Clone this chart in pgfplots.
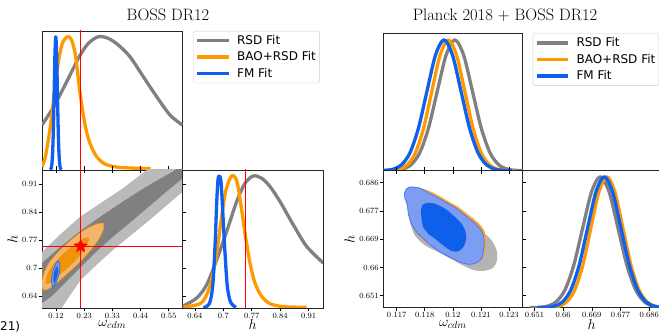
\documentclass[border=0pt]{standalone}
\usepackage{pgfplots}
\pgfplotsset{compat=1.18}
\usepackage{fontspec}
\newfontfamily\dejavu{DejaVu Sans}
\definecolor{cgray}{RGB}{128,128,128}
\definecolor{corange}{RGB}{255,153,0}
\definecolor{cblue}{RGB}{16,96,240}
\definecolor{lgray}{RGB}{186,186,186}
\definecolor{dgray}{RGB}{128,128,128}
\definecolor{lorange}{RGB}{244,180,106}
\definecolor{dorange}{RGB}{240,146,10}
\definecolor{lblue}{RGB}{110,152,238}
\definecolor{dblue}{RGB}{30,96,228}
\definecolor{rgray}{RGB}{180,180,180}
\definecolor{rorange}{RGB}{245,165,50}
\definecolor{rblue}{RGB}{124,157,242}
\definecolor{rblueedge}{RGB}{50,112,240}
\definecolor{rdblue}{RGB}{14,96,234}
\pgfdeclareplotmark{fstar}{%
  \pgfpathmoveto{\pgfpointpolar{90}{\pgfplotmarksize}}%
  \pgfpathlineto{\pgfpointpolar{126}{0.42\pgfplotmarksize}}%
  \pgfpathlineto{\pgfpointpolar{162}{\pgfplotmarksize}}%
  \pgfpathlineto{\pgfpointpolar{198}{0.42\pgfplotmarksize}}%
  \pgfpathlineto{\pgfpointpolar{234}{\pgfplotmarksize}}%
  \pgfpathlineto{\pgfpointpolar{270}{0.42\pgfplotmarksize}}%
  \pgfpathlineto{\pgfpointpolar{306}{\pgfplotmarksize}}%
  \pgfpathlineto{\pgfpointpolar{342}{0.42\pgfplotmarksize}}%
  \pgfpathlineto{\pgfpointpolar{18}{\pgfplotmarksize}}%
  \pgfpathlineto{\pgfpointpolar{54}{0.42\pgfplotmarksize}}%
  \pgfpathclose
  \pgfusepathqfillstroke}
\pgfplotsset{
  tri/.style={scale only axis, anchor=south west,
    axis line style={black!85, line width=0.7pt},
    tick style={black, line width=0.6pt}, major tick length=3.5pt,
    tick align=outside,
    tick label style={font=\fontsize{8}{9}\selectfont, inner sep=1pt},
    label style={font=\fontsize{14}{16}\selectfont},
    xlabel style={inner sep=0.5pt}},
  curve/.style={line width=3.3pt, line join=round, smooth},
  leg/.style={legend style={anchor=north west, draw=black!20, rounded corners=2pt,
    fill=white, font=\dejavu\fontsize{12}{14}\selectfont,
    inner xsep=2pt, inner ysep=2.5pt, row sep=3pt, column sep=5pt,
    cells={anchor=west}, nodes={inner sep=1.5pt}},
    legend image code/.code={\draw[##1, line width=3.5pt, line cap=butt] (0pt,0pt) -- (31.6pt,0pt);}},
  redl/.style={red, line width=0.9pt, forget plot},
}
\begin{document}
\begin{tikzpicture}
\path[use as bounding box] (0pt,0pt) rectangle (659pt,334pt);
\node[font=\fontsize{16.5}{18}\selectfont, anchor=base] at (168pt,313.5pt) {BOSS DR12};
\node[font=\fontsize{16.5}{18}\selectfont, anchor=base] at (505pt,313.5pt) {Planck 2018 + BOSS DR12};
\node[anchor=south west, inner sep=0pt, font=\dejavu\fontsize{12}{12}\selectfont] at (0pt,1.5pt) {21)};

% ---------- LEFT: top-left (omega_cdm 1D)
\begin{axis}[tri, leg, at={(42pt,164pt)}, width=140.5pt, height=139pt,
  xmin=0.0644, xmax=0.6025, ymin=0, ymax=1.043,
  xtick={0.118,0.226,0.334,0.442,0.55}, xticklabels={}, xtick pos=bottom, ytick=\empty,
  legend style={at={(1.077,1.0)}},
  legend entries={RSD Fit, BAO+RSD Fit, FM Fit}]
\addplot[curve, cgray] coordinates {(0.0644,0.3375) (0.1078,0.47) (0.1461,0.6125) (0.1844,0.7625) (0.2099,0.86) (0.2418,0.95) (0.2801,1.0) (0.3184,0.9875) (0.3567,0.9375) (0.4014,0.85) (0.4525,0.70) (0.5036,0.55) (0.5546,0.4125) (0.6019,0.3375)};
\addplot[curve, corange] coordinates {(0.0644,0.025) (0.0759,0.0875) (0.0886,0.225) (0.1014,0.40) (0.1142,0.625) (0.1269,0.8125) (0.1423,0.95) (0.1614,1.0) (0.1780,0.975) (0.1933,0.85) (0.2099,0.58) (0.2291,0.34) (0.2482,0.2) (0.2738,0.10) (0.3057,0.045) (0.3503,0.022) (0.4014,0.015) (0.4525,0.012) (0.4806,0.01)};
\addplot[curve, cblue] coordinates {(0.0962,0.0022) (0.0992,0.0111) (0.1022,0.0439) (0.1052,0.1353) (0.1082,0.3247) (0.1112,0.6065) (0.1142,0.8825) (0.1172,1) (0.1202,0.8825) (0.1232,0.6065) (0.1262,0.3247) (0.1292,0.1353) (0.1322,0.0439) (0.1352,0.0111) (0.1382,0.0022)};
\addplot[redl] coordinates {(0.2126,0) (0.2126,1.1)};
\end{axis}

% ---------- LEFT: bottom-left (2D)
\begin{axis}[tri, at={(42pt,26pt)}, width=140.5pt, height=138pt,
  xmin=0.0644, xmax=0.6025, ymin=0.6075, ymax=0.9413,
  xtick={0.118,0.226,0.334,0.442,0.55}, xticklabels={0.12,0.23,0.33,0.44,0.55},
  ytick={0.637,0.7045,0.772,0.8395,0.907}, yticklabels={0.64,0.7,0.77,0.84,0.91},
  xtick pos=both, ytick pos=both, xticklabel pos=bottom, yticklabel pos=left,
  xlabel={$\omega_{cdm}$}, ylabel={$h$}]
\addplot[fill=lgray, draw=none] coordinates {(0.06,0.7395) (0.0644,0.7430) (0.1333,0.7849) (0.2125,0.8293) (0.2993,0.8655) (0.3759,0.8978) (0.4653,0.9413) (0.50,0.958) (0.65,0.96) (0.65,0.914) (0.6031,0.8889) (0.5419,0.8559) (0.4780,0.8212) (0.4078,0.7849) (0.3376,0.7486) (0.2738,0.7123) (0.2125,0.6752) (0.1780,0.6438) (0.1397,0.6075) (0.1206,0.59) (0.06,0.59)} -- cycle;
\addplot[fill=dgray, draw=none] coordinates {(0.06,0.7135) (0.0644,0.7164) (0.1333,0.7543) (0.2125,0.7946) (0.2993,0.8333) (0.3759,0.8655) (0.4397,0.8913) (0.5036,0.9155) (0.5674,0.9381) (0.60,0.955) (0.65,0.97) (0.65,0.9454) (0.6031,0.9212) (0.5419,0.8897) (0.4780,0.8551) (0.4078,0.8172) (0.3376,0.7809) (0.2738,0.7446) (0.2125,0.7059) (0.1780,0.6841) (0.1397,0.6599) (0.1014,0.6357) (0.0644,0.6196) (0.06,0.617)} -- cycle;
\addplot[smooth, fill=lorange, draw=dorange, line width=0.5pt] coordinates {(0.2993,0.8131) (0.2738,0.8107) (0.2355,0.7994) (0.1972,0.7833) (0.1589,0.7631) (0.1206,0.7390) (0.0886,0.7140) (0.0695,0.6866) (0.0631,0.6648) (0.0695,0.6511) (0.0886,0.6535) (0.1206,0.6680) (0.1589,0.6890) (0.2035,0.7148) (0.2482,0.7454) (0.2840,0.7760) (0.3019,0.8002)} -- cycle;
\addplot[smooth, fill=dorange, draw=none] coordinates {(0.2431,0.7785) (0.2227,0.7752) (0.1908,0.7623) (0.1525,0.7426) (0.1142,0.7180) (0.0886,0.6930) (0.0784,0.6728) (0.0823,0.6656) (0.1014,0.6704) (0.1333,0.6882) (0.1716,0.7094) (0.2099,0.7351) (0.2355,0.7593) (0.2457,0.7736)} -- cycle;
\addplot[smooth, fill=lblue, draw=cblue, line width=0.5pt] coordinates {(0.1269,0.7220) (0.1333,0.7123) (0.1308,0.6922) (0.1206,0.6720) (0.1103,0.6591) (0.1027,0.6624) (0.1014,0.6801) (0.1078,0.7003) (0.1180,0.7164)} -- cycle;
\addplot[smooth, fill=dblue, draw=none] coordinates {(0.1231,0.7083) (0.1269,0.6962) (0.1206,0.6801) (0.1129,0.6680) (0.1078,0.6761) (0.1103,0.6922) (0.1167,0.7043)} -- cycle;
\addplot[red, line width=0.9pt] coordinates {(0.2126,0.55) (0.2126,1.0)};
\addplot[red, line width=0.9pt] coordinates {(0.0,0.757) (0.7,0.757)};
\addplot[only marks, mark=fstar, mark size=7pt, red, mark options={fill=red, draw=red}] coordinates {(0.2126,0.757)};
\end{axis}

% ---------- LEFT: bottom-right (h 1D)
\begin{axis}[tri, at={(182.5pt,26pt)}, width=140.5pt, height=138pt,
  xmin=0.6075, xmax=0.9413, ymin=0, ymax=1.045,
  xtick={0.637,0.7045,0.772,0.8395,0.907}, xticklabels={0.64,0.7,0.77,0.84,0.91},
  xtick pos=bottom, ytick=\empty, xlabel={$h$}]
\addplot[curve, cgray] coordinates {(0.6075,0.012) (0.6412,0.0756) (0.6649,0.1763) (0.6887,0.3652) (0.7124,0.5793) (0.7362,0.806) (0.7560,0.9446) (0.7758,1.0) (0.7956,0.9824) (0.8154,0.9194) (0.8391,0.806) (0.8708,0.6297) (0.9025,0.466) (0.9421,0.34)};
\addplot[curve, corange] coordinates {(0.6095,0.005) (0.6491,0.033) (0.6649,0.10) (0.6768,0.214) (0.6887,0.4156) (0.7005,0.6927) (0.7108,0.894) (0.7243,1.0) (0.7362,0.965) (0.7457,0.7935) (0.7560,0.5668) (0.7679,0.34) (0.7797,0.189) (0.7956,0.088) (0.8154,0.033) (0.8471,0.01) (0.9025,0.005)};
\addplot[curve, cblue] coordinates {(0.6570,0.002) (0.6712,0.033) (0.6792,0.164) (0.6847,0.466) (0.6887,0.7935) (0.6918,0.97) (0.6950,1.0) (0.6990,0.957) (0.7029,0.743) (0.7085,0.4156) (0.7140,0.164) (0.7219,0.043) (0.7346,0.005)};
\addplot[redl] coordinates {(0.757,0) (0.757,1.1)};
\end{axis}

% ---------- RIGHT: top (omega_cdm 1D)
\begin{axis}[tri, leg, at={(383.3pt,163.3pt)}, width=139pt, height=137.4pt,
  xmin=0.11599, xmax=0.12341, ymin=0, ymax=1.05,
  xtick={0.1167,0.1182,0.1197,0.1212,0.1227}, xticklabels={}, xtick pos=bottom, ytick=\empty,
  legend style={at={(1.075,1.0)}},
  legend entries={RSD Fit, BAO+RSD Fit, FM Fit}]
\addplot[curve, cgray] coordinates {(0.11605,0.0003) (0.11652,0.0022) (0.11699,0.0111) (0.11746,0.0439) (0.11793,0.1353) (0.1184,0.3247) (0.11887,0.6065) (0.11934,0.8825) (0.11981,1) (0.12028,0.8825) (0.12075,0.6065) (0.12122,0.3247) (0.12169,0.1353) (0.12216,0.0439) (0.12263,0.0111) (0.1231,0.0022) (0.12357,0.0003)};
\addplot[curve, corange] coordinates {(0.11594,0.0003) (0.11638,0.0022) (0.11682,0.0111) (0.11726,0.0439) (0.1177,0.1353) (0.11814,0.3247) (0.11858,0.6065) (0.11902,0.8825) (0.11946,1) (0.1199,0.8825) (0.12034,0.6065) (0.12078,0.3247) (0.12122,0.1353) (0.12166,0.0439) (0.1221,0.0111) (0.12254,0.0022) (0.12298,0.0003)};
\addplot[curve, cblue] coordinates {(0.11559,0.0003) (0.116045,0.0022) (0.1165,0.0111) (0.116955,0.0439) (0.11741,0.1353) (0.117865,0.3247) (0.11832,0.6065) (0.118775,0.8825) (0.11923,1) (0.119685,0.8825) (0.12014,0.6065) (0.120595,0.3247) (0.12105,0.1353) (0.121505,0.0439) (0.12196,0.0111) (0.122415,0.0022) (0.12287,0.0003)};
\end{axis}

% ---------- RIGHT: bottom-left (2D)
\begin{axis}[tri, at={(383.3pt,26.3pt)}, width=139pt, height=137pt,
  xmin=0.11599, xmax=0.12341, ymin=0.6474, ymax=0.6898,
  xtick={0.1167,0.1182,0.1197,0.1212,0.1227}, xticklabels={0.117,0.118,0.12,0.121,0.123},
  ytick={0.6511,0.65985,0.6686,0.67735,0.6861}, yticklabels={0.651,0.66,0.669,0.677,0.686},
  xtick pos=both, ytick pos=both, xticklabel pos=bottom, yticklabel pos=left,
  xlabel={$\omega_{cdm}$}, ylabel={$h$}, xlabel style={yshift=-0.8pt}]
\addplot[smooth, fill=rgray, draw=none] coordinates {(0.117321,0.684248) (0.118033,0.684042) (0.118745,0.682184) (0.119634,0.679087) (0.120524,0.675474) (0.121236,0.671345) (0.12177,0.668248) (0.122037,0.665151) (0.122054,0.662054) (0.121859,0.659783) (0.121414,0.658854) (0.12088,0.658957) (0.120346,0.660196) (0.119634,0.662364) (0.118922,0.664635) (0.118211,0.6667) (0.117677,0.669796) (0.11741,0.673925) (0.117285,0.678055) (0.117179,0.681668)} -- cycle;
\addplot[smooth, fill=rorange, draw=none] coordinates {(0.117232,0.684248) (0.117855,0.684558) (0.118478,0.683423) (0.118922,0.682184) (0.119456,0.680326) (0.11999,0.678571) (0.120524,0.676197) (0.120969,0.674132) (0.121325,0.671861) (0.121449,0.669796) (0.121467,0.667216) (0.121414,0.664635) (0.121271,0.662364) (0.120969,0.661228) (0.120524,0.660919) (0.11999,0.661744) (0.119456,0.663293) (0.118922,0.665048) (0.118389,0.667216) (0.117944,0.66928) (0.117641,0.671654) (0.11741,0.674442) (0.117285,0.678055) (0.117179,0.681152)} -- cycle;
\addplot[smooth, fill=rblue, draw=rblueedge, line width=0.6pt] coordinates {(0.117108,0.6827) (0.117232,0.684248) (0.11741,0.684765) (0.117855,0.684558) (0.118175,0.683732) (0.118389,0.68301) (0.118922,0.681358) (0.119456,0.679603) (0.119901,0.678055) (0.120346,0.67599) (0.120791,0.673925) (0.121147,0.671861) (0.121325,0.669796) (0.121378,0.667216) (0.121325,0.664635) (0.121236,0.66257) (0.120969,0.661331) (0.120613,0.660815) (0.120168,0.661331) (0.119634,0.662777) (0.1191,0.664428) (0.118567,0.666493) (0.118122,0.668764) (0.117766,0.670829) (0.117499,0.673409) (0.117321,0.676506) (0.117285,0.679087) (0.117143,0.681152)} -- cycle;
\addplot[smooth, fill=rdblue, draw=none] coordinates {(0.118068,0.679087) (0.1183,0.67981) (0.118745,0.679603) (0.119278,0.678055) (0.119723,0.67599) (0.120168,0.673409) (0.120381,0.670829) (0.120399,0.668248) (0.120257,0.666183) (0.11999,0.664841) (0.119634,0.664944) (0.119189,0.6667) (0.118745,0.668764) (0.118389,0.670312) (0.118122,0.672377) (0.118033,0.674958) (0.117997,0.677539)} -- cycle;
\end{axis}

% ---------- RIGHT: bottom-right (h 1D)
\begin{axis}[tri, at={(522.3pt,26.3pt)}, width=139pt, height=137pt,
  xmin=0.6474, xmax=0.6898, ymin=0, ymax=1.046,
  xtick={0.6511,0.65985,0.6686,0.67735,0.6861}, xticklabels={0.651,0.66,0.669,0.677,0.686},
  xtick pos=bottom, ytick=\empty, xlabel={$h$}]
\addplot[curve, cgray] coordinates {(0.6496,0.0003) (0.6523,0.0022) (0.655,0.0111) (0.6577,0.0439) (0.6604,0.1353) (0.6631,0.3247) (0.6658,0.6065) (0.6685,0.8825) (0.6712,1) (0.6739,0.8825) (0.6766,0.6065) (0.6793,0.3247) (0.682,0.1353) (0.6847,0.0439) (0.6874,0.0111) (0.6901,0.0022) (0.6928,0.0003)};
\addplot[curve, corange] coordinates {(0.6536,0.0003) (0.65605,0.0022) (0.6585,0.0111) (0.66095,0.0439) (0.6634,0.1353) (0.66585,0.3247) (0.6683,0.6065) (0.67075,0.8825) (0.6732,1) (0.67565,0.8825) (0.6781,0.6065) (0.68055,0.3247) (0.683,0.1353) (0.68545,0.0439) (0.6879,0.0111) (0.69035,0.0022) (0.6928,0.0003)};
\addplot[curve, cblue] coordinates {(0.652,0.0003) (0.65455,0.0022) (0.6571,0.0111) (0.65965,0.0439) (0.6622,0.1353) (0.66475,0.3247) (0.6673,0.6065) (0.66985,0.8825) (0.6724,1) (0.67495,0.8825) (0.6775,0.6065) (0.68005,0.3247) (0.6826,0.1353) (0.68515,0.0439) (0.6877,0.0111) (0.69025,0.0022) (0.6928,0.0003)};
\end{axis}
\end{tikzpicture}
\end{document}
